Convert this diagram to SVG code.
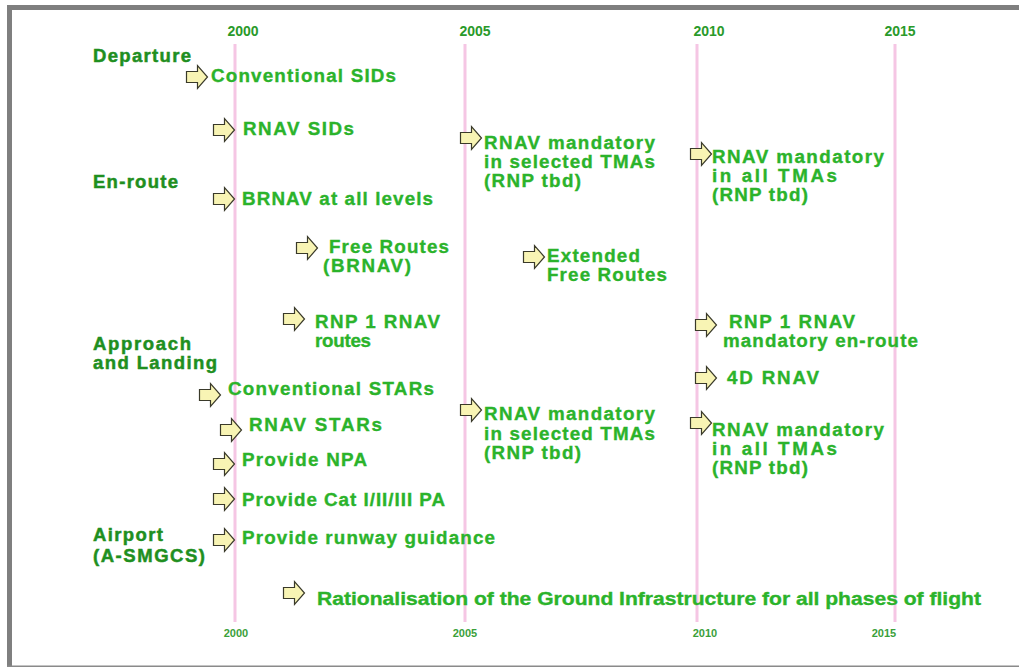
<svg xmlns="http://www.w3.org/2000/svg" xmlns:xlink="http://www.w3.org/1999/xlink" width="1019" height="669" viewBox="0 0 1019 669">
  <style>
    text { font-family: "Liberation Sans", Arial, sans-serif; font-weight: bold; }
    .cat { font-size: 18.5px; fill: #1f8f1f; stroke: #1f8f1f; stroke-width: 0.5; }
    .item { font-size: 18.8px; fill: #2bb32b; stroke: #2bb32b; stroke-width: 0.35; }
    .yr { font-size: 14px; fill: #2a9a2a; text-anchor: middle; }
    .yrb { font-size: 11px; fill: #3aa03a; text-anchor: middle; }
    .grid { stroke: #f5c6e4; stroke-width: 3; }
    .arrow { fill: #f8f4b4; stroke: #3a3a2a; stroke-width: 1.2; stroke-linejoin: miter; }
  </style>
  <defs>
    <path id="arr" class="arrow" d="M0.5,6.5 H11.5 V0.5 L21.5,12 L11.5,23.5 V17.5 H0.5 Z"/>
  </defs>

  <!-- background and frame -->
  <rect x="0" y="0" width="1019" height="669" fill="#ffffff"/>
  <rect x="7" y="5" width="1012" height="5" fill="#7f7f7f"/>
  <rect x="7" y="5" width="5" height="662" fill="#7f7f7f"/>
  <rect x="7" y="665.5" width="1012" height="1.5" fill="#8a8a8a"/>

  <!-- year grid -->
  <g id="grid">
    <line class="grid" x1="235" y1="44" x2="235" y2="622"/>
    <line class="grid" x1="465" y1="44" x2="465" y2="622"/>
    <line class="grid" x1="697" y1="44" x2="697" y2="622"/>
    <line class="grid" x1="895" y1="44" x2="895" y2="622"/>
    <text class="yr" x="243" y="36">2000</text>
    <text class="yr" x="475" y="36">2005</text>
    <text class="yr" x="709" y="36">2010</text>
    <text class="yr" x="900" y="36">2015</text>
    <text class="yrb" x="236" y="637">2000</text>
    <text class="yrb" x="465" y="637">2005</text>
    <text class="yrb" x="705" y="637">2010</text>
    <text class="yrb" x="884" y="637">2015</text>
  </g>

  <!-- phase headings -->
  <g id="headings">
    <text class="cat" x="93" y="62" textLength="98" lengthAdjust="spacing">Departure</text>
    <text class="cat" x="93" y="188" textLength="85" lengthAdjust="spacing">En-route</text>
    <text class="cat" x="93" y="350" textLength="98" lengthAdjust="spacing">Approach</text>
    <text class="cat" x="93" y="369" textLength="124" lengthAdjust="spacing">and Landing</text>
    <text class="cat" x="93" y="541" textLength="70" lengthAdjust="spacing">Airport</text>
    <text class="cat" x="93" y="562" textLength="112" lengthAdjust="spacing">(A-SMGCS)</text>
  </g>

  <!-- milestones -->
  <g id="conv-sids">
    <use xlink:href="#arr" href="#arr" x="186" y="65"/>
    <text class="item" x="211" y="82" textLength="185" lengthAdjust="spacing">Conventional SIDs</text>
  </g>
  <g id="rnav-sids">
    <use xlink:href="#arr" href="#arr" x="213" y="118"/>
    <text class="item" x="243" y="135" textLength="111" lengthAdjust="spacing">RNAV SIDs</text>
  </g>
  <g id="rnav-selected-tma-dep">
    <use xlink:href="#arr" href="#arr" x="460" y="126"/>
    <text class="item" x="484" y="149" textLength="171" lengthAdjust="spacing">RNAV mandatory</text>
    <text class="item" x="484" y="168" textLength="171" lengthAdjust="spacing">in selected TMAs</text>
    <text class="item" x="484" y="187" textLength="97" lengthAdjust="spacing">(RNP tbd)</text>
  </g>
  <g id="rnav-all-tma-dep">
    <use xlink:href="#arr" href="#arr" x="690" y="142"/>
    <text class="item" x="712" y="163" textLength="172" lengthAdjust="spacing">RNAV mandatory</text>
    <text class="item" x="712" y="182" textLength="125" lengthAdjust="spacing">in all TMAs</text>
    <text class="item" x="712" y="201" textLength="96" lengthAdjust="spacing">(RNP tbd)</text>
  </g>
  <g id="brnav">
    <use xlink:href="#arr" href="#arr" x="213" y="187"/>
    <text class="item" x="242" y="205" textLength="191" lengthAdjust="spacing">BRNAV at all levels</text>
  </g>
  <g id="free-routes">
    <use xlink:href="#arr" href="#arr" x="296" y="236"/>
    <text class="item" x="329" y="253" textLength="120" lengthAdjust="spacing">Free Routes</text>
    <text class="item" x="323" y="272" textLength="88" lengthAdjust="spacing">(BRNAV)</text>
  </g>
  <g id="extended-free-routes">
    <use xlink:href="#arr" href="#arr" x="523" y="245"/>
    <text class="item" x="547" y="262" textLength="93" lengthAdjust="spacing">Extended</text>
    <text class="item" x="547" y="281" textLength="120" lengthAdjust="spacing">Free Routes</text>
  </g>
  <g id="rnp1-routes">
    <use xlink:href="#arr" href="#arr" x="283" y="307"/>
    <text class="item" x="315" y="328" textLength="125" lengthAdjust="spacing">RNP 1 RNAV</text>
    <text class="item" x="315" y="347" textLength="56" lengthAdjust="spacing">routes</text>
  </g>
  <g id="rnp1-mandatory">
    <use xlink:href="#arr" href="#arr" x="695" y="313"/>
    <text class="item" x="729" y="328" textLength="126" lengthAdjust="spacing">RNP 1 RNAV</text>
    <text class="item" x="723" y="347" textLength="195" lengthAdjust="spacing">mandatory en-route</text>
  </g>
  <g id="rnav-4d">
    <use xlink:href="#arr" href="#arr" x="695" y="366"/>
    <text class="item" x="727" y="384" textLength="92" lengthAdjust="spacing">4D RNAV</text>
  </g>
  <g id="conv-stars">
    <use xlink:href="#arr" href="#arr" x="199" y="383"/>
    <text class="item" x="228" y="395" textLength="206" lengthAdjust="spacing">Conventional STARs</text>
  </g>
  <g id="rnav-selected-tma-arr">
    <use xlink:href="#arr" href="#arr" x="460" y="398"/>
    <text class="item" x="484" y="420" textLength="171" lengthAdjust="spacing">RNAV mandatory</text>
    <text class="item" x="484" y="440" textLength="171" lengthAdjust="spacing">in selected TMAs</text>
    <text class="item" x="484" y="459" textLength="97" lengthAdjust="spacing">(RNP tbd)</text>
  </g>
  <g id="rnav-all-tma-arr">
    <use xlink:href="#arr" href="#arr" x="690" y="411"/>
    <text class="item" x="712" y="436" textLength="172" lengthAdjust="spacing">RNAV mandatory</text>
    <text class="item" x="712" y="455" textLength="125" lengthAdjust="spacing">in all TMAs</text>
    <text class="item" x="712" y="474" textLength="96" lengthAdjust="spacing">(RNP tbd)</text>
  </g>
  <g id="rnav-stars">
    <use xlink:href="#arr" href="#arr" x="220" y="418"/>
    <text class="item" x="249" y="431" textLength="133" lengthAdjust="spacing">RNAV STARs</text>
  </g>
  <g id="npa">
    <use xlink:href="#arr" href="#arr" x="213" y="452"/>
    <text class="item" x="242" y="466" textLength="125" lengthAdjust="spacing">Provide NPA</text>
  </g>
  <g id="cat-pa">
    <use xlink:href="#arr" href="#arr" x="213" y="487"/>
    <text class="item" x="242" y="506" textLength="203" lengthAdjust="spacing">Provide Cat I/II/III PA</text>
  </g>
  <g id="runway-guidance">
    <use xlink:href="#arr" href="#arr" x="213" y="528"/>
    <text class="item" x="242" y="544" textLength="253" lengthAdjust="spacing">Provide runway guidance</text>
  </g>
  <g id="rationalisation">
    <use xlink:href="#arr" href="#arr" x="283" y="581"/>
    <text class="item" x="317" y="605" textLength="664" lengthAdjust="spacingAndGlyphs">Rationalisation of the Ground Infrastructure for all phases of flight</text>
  </g>
</svg>
